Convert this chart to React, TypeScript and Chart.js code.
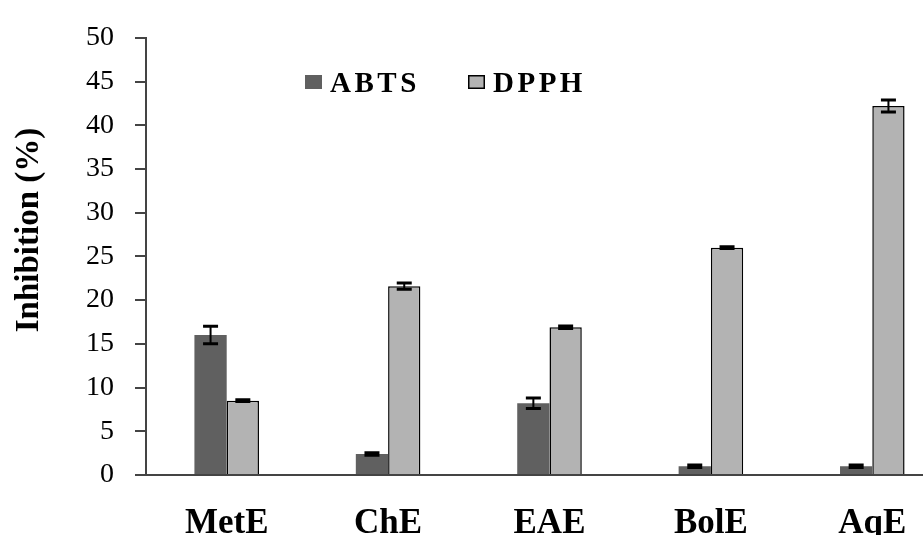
import React, { useEffect, useRef } from "react";
import { Chart, registerables } from "chart.js";

Chart.register(...registerables);

const categories = ["MetE", "ChE", "EAE", "BolE", "AqE"];
const seriesNames = ["ABTS", "DPPH"];
const abtsValues = [16.0, 2.4, 8.2, 1.0, 1.0];
const abtsErrors = [1.0, 0.15, 0.6, 0.15, 0.15];
const dpphValues = [8.5, 21.6, 16.9, 26.0, 42.2];
const dpphErrors = [0.1, 0.35, 0.15, 0.1, 0.7];
const yMin = 0;
const yMax = 50;
const yStep = 5;
const yAxisTitle = "Inhibition (%)";

const SERIF = "'Liberation Serif', 'Times New Roman', Times, serif";
const colors = ["#606060", "#b3b3b3"];
const borders = ["#606060", "#000000"];
const borderWidths = [0, 1.5];

const errorBarPlugin = {
  id: "errorBars",
  afterDatasetsDraw(chart: any) {
    const ctx = chart.ctx;
    const yScale = chart.scales.y;
    chart.data.datasets.forEach((ds: any, i: number) => {
      const meta = chart.getDatasetMeta(i);
      meta.data.forEach((bar: any, j: number) => {
        const v = ds.data[j];
        const e = ds.errors[j];
        const top = yScale.getPixelForValue(v + e);
        const bot = yScale.getPixelForValue(v - e);
        const x = bar.x;
        const half = 7.5;
        ctx.save();
        ctx.strokeStyle = "#000";
        ctx.lineWidth = 2;
        ctx.beginPath();
        ctx.moveTo(x, top);
        ctx.lineTo(x, bot);
        ctx.stroke();
        ctx.lineWidth = 3;
        ctx.beginPath();
        ctx.moveTo(x - half, top);
        ctx.lineTo(x + half, top);
        ctx.moveTo(x - half, bot);
        ctx.lineTo(x + half, bot);
        ctx.stroke();
        ctx.restore();
      });
    });
  },
};

const legendPlugin = {
  id: "insideLegend",
  afterDraw(chart: any) {
    const ctx = chart.ctx;
    const positions = [305, 468];
    const midY = 82;
    chart.data.datasets.forEach((ds: any, i: number) => {
      const x = positions[i];
      ctx.save();
      ctx.fillStyle = ds.backgroundColor;
      ctx.fillRect(x, midY - 7, 17, 14);
      if (ds.borderWidth > 0) {
        ctx.strokeStyle = "#000";
        ctx.lineWidth = 1.5;
        ctx.strokeRect(x + 0.75, midY - 6.25, 15.5, 12.5);
      }
      ctx.fillStyle = "#000";
      ctx.font = `bold 29px ${SERIF}`;
      (ctx as any).letterSpacing = "3.5px";
      ctx.textAlign = "left";
      ctx.textBaseline = "alphabetic";
      ctx.fillText(ds.label, x + 25, 92);
      ctx.restore();
    });
  },
};

const yTitlePlugin = {
  id: "yTitle",
  afterDraw(chart: any) {
    const ctx = chart.ctx;
    ctx.save();
    ctx.translate(29, 230);
    ctx.rotate(-Math.PI / 2);
    ctx.fillStyle = "#000";
    ctx.font = `bold 33px ${SERIF}`;
    ctx.textAlign = "center";
    ctx.textBaseline = "middle";
    ctx.fillText(yAxisTitle, 0, 0);
    ctx.restore();
  },
};

export default function App() {
  const canvasRef = useRef<HTMLCanvasElement | null>(null);

  useEffect(() => {
    if (!canvasRef.current) return;
    const chart = new Chart(canvasRef.current, {
      type: "bar",
      data: {
        labels: categories,
        datasets: [
          {
            label: seriesNames[0],
            data: abtsValues,
            errors: abtsErrors,
            backgroundColor: colors[0],
            borderColor: borders[0],
            borderWidth: borderWidths[0],
            barPercentage: 1,
            categoryPercentage: 0.4,
          } as any,
          {
            label: seriesNames[1],
            data: dpphValues,
            errors: dpphErrors,
            backgroundColor: colors[1],
            borderColor: borders[1],
            borderWidth: borderWidths[1],
            barPercentage: 1,
            categoryPercentage: 0.4,
          } as any,
        ],
      },
      options: {
        responsive: false,
        animation: false,
        devicePixelRatio: 1,
        layout: { padding: { top: 29, left: 0, right: 0, bottom: 0 } },
        plugins: {
          legend: { display: false },
          tooltip: { enabled: false },
        },
        scales: {
          x: {
            grid: { display: false, drawTicks: false },
            border: { display: true, color: "#444", width: 2 },
            ticks: {
              padding: 28,
              color: "#000",
              font: { family: SERIF, size: 35, weight: "bold" },
            },
          },
          y: {
            min: yMin,
            max: yMax,
            afterFit(scale: any) {
              scale.width = 146;
            },
            grid: {
              display: true,
              drawOnChartArea: false,
              drawTicks: true,
              tickLength: 11,
              color: "#444",
              lineWidth: 2,
            },
            border: { display: true, color: "#444", width: 2 },
            ticks: {
              stepSize: yStep,
              padding: 21,
              color: "#000",
              font: { family: SERIF, size: 28 },
            },
          },
        },
      },
      plugins: [errorBarPlugin, legendPlugin, yTitlePlugin],
    });
    return () => chart.destroy();
  }, []);

  return (
    <div
      style={{
        position: "fixed",
        left: 0,
        top: 0,
        width: 923,
        height: 535,
        overflow: "hidden",
        background: "#fff",
      }}
    >
      <canvas ref={canvasRef} width={953} height={573} style={{ display: "block" }} />
    </div>
  );
}
